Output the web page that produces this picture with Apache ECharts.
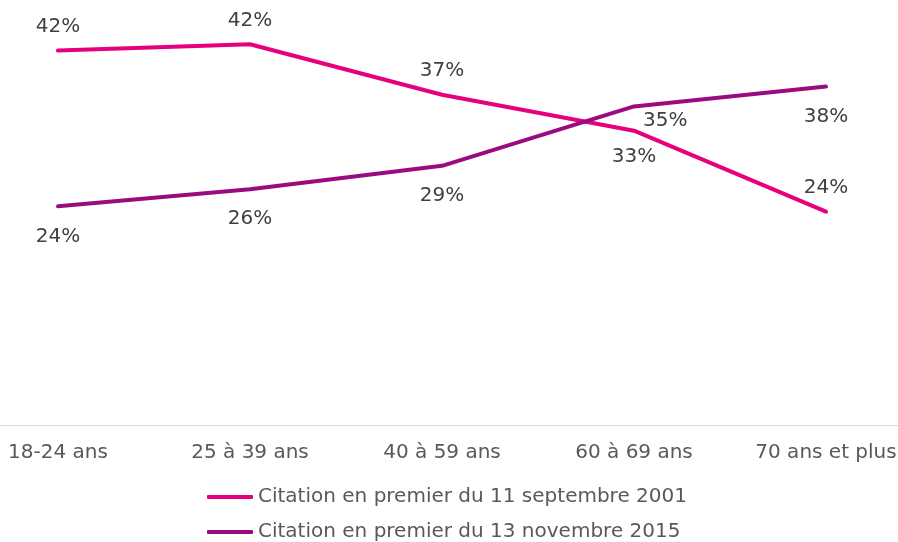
<!DOCTYPE html>
<html>
<head>
<meta charset="utf-8">
<title>Citation en premier</title>
<script src="https://cdn.jsdelivr.net/npm/echarts@6/dist/echarts.min.js"></script>
<style>
  html, body { margin: 0; padding: 0; background: #fff; }
  #chart { width: 898px; height: 542px; }
</style>
</head>
<body>
<div id="chart"></div>
<script>
  // tranches d'age
  const categories = ['18-24 ans', '25 à 39 ans', '40 à 59 ans', '60 à 69 ans', '70 ans et plus']
  // valeurs (%)
  const sept2001 = [41.6, 42.3, 36.7, 32.7, 23.7]
  const nov2015 = [24.3, 26.2, 28.8, 35.4, 37.6]
  const seriesNames = ['Citation en premier du 11 septembre 2001', 'Citation en premier du 13 novembre 2015']

  // position des etiquettes, comme sur l'original
  const posSept = ['top', 'top', 'top', 'bottom', 'top']
  const posNov = ['bottom', 'bottom', 'bottom', 'right', 'bottom']

  const pink = '#E6007E'
  const purple = '#9C0A80'
  const font = 'DejaVu Sans, Verdana, sans-serif'

  function withLabels(values, positions) {
    return values.map((v, i) => {
      const p = positions[i]
      let label = { position: p, distance: p === 'top' ? 13 : 19 }
      if (p === 'bottom' && positions === posSept) label.distance = 15
      // 35% : decale a droite et un peu en dessous du point
      if (p === 'right') label = { position: [10, 15], align: 'left', verticalAlign: 'middle' }
      return { value: v, label: label }
    })
  }

  function lineSeries(name, values, positions, color) {
    return {
      name: name,
      type: 'line',
      data: withLabels(values, positions),
      symbol: 'circle',
      symbolSize: 2, // cache sous le trait
      showSymbol: true,
      color: color,
      itemStyle: { color: color },
      lineStyle: { width: 4, color: color, cap: 'round', join: 'round' },
      label: {
        show: true,
        color: '#404040',
        fontFamily: font,
        fontSize: 20,
        formatter: p => Math.round(p.value) + '%'
      },
      labelLayout: { hideOverlap: false }
    }
  }

  const chart = echarts.init(document.getElementById('chart'))
  const option = {
    animation: false,
    grid: {
      top: 20,
      bottom: 117,
      left: -38,
      right: -24,
      outerBoundsMode: 'none',
      containLabel: false
    },
    legend: {
      data: seriesNames,
      orient: 'vertical',
      left: 207,
      top: 487,
      padding: 0,
      itemWidth: 46,
      itemHeight: 4,
      itemGap: 15,
      icon: 'roundRect',
      textStyle: {
        color: '#595959',
        fontFamily: font,
        fontSize: 20
      }
    },
    xAxis: {
      type: 'category',
      data: categories,
      boundaryGap: true,
      axisLine: { show: true, lineStyle: { color: '#D9D9D9', width: 1 } },
      axisTick: { show: false },
      axisLabel: {
        color: '#595959',
        fontFamily: font,
        fontSize: 20,
        margin: 18,
        interval: 0
      }
    },
    yAxis: {
      type: 'value',
      min: 0,
      max: 45,
      show: false
    },
    series: [
      lineSeries(seriesNames[0], sept2001, posSept, pink),
      lineSeries(seriesNames[1], nov2015, posNov, purple)
    ]
  }
  chart.setOption(option)
</script>
</body>
</html>
